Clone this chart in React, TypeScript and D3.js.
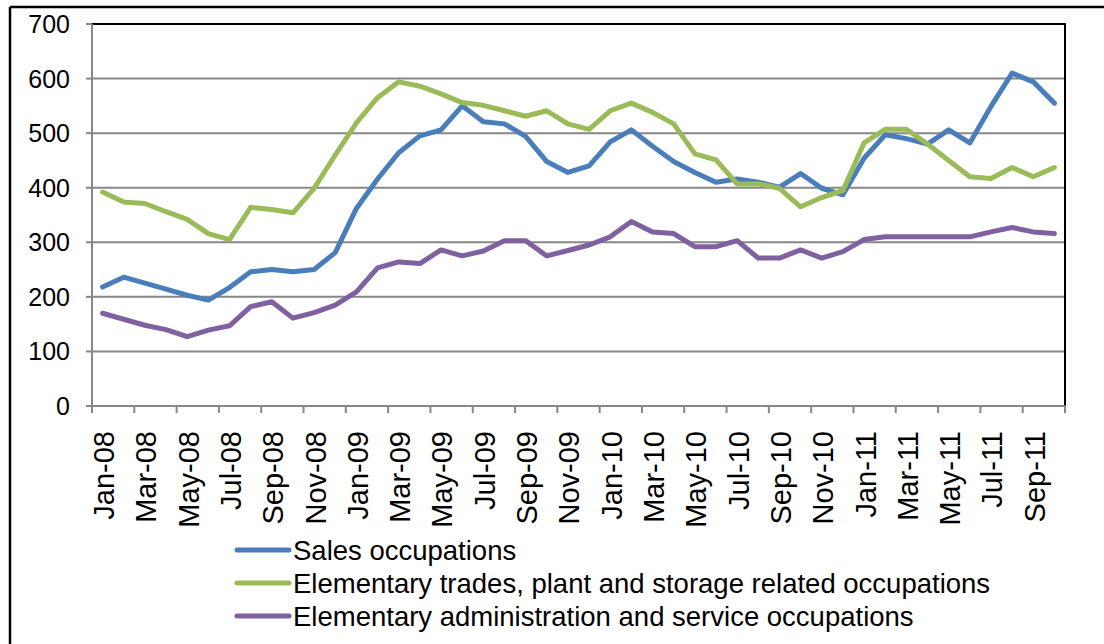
import React from 'react'
import * as d3 from 'd3'

const months = [
  'Jan-08', 'Feb-08', 'Mar-08', 'Apr-08', 'May-08', 'Jun-08', 'Jul-08', 'Aug-08', 'Sep-08', 'Oct-08', 'Nov-08', 'Dec-08',
  'Jan-09', 'Feb-09', 'Mar-09', 'Apr-09', 'May-09', 'Jun-09', 'Jul-09', 'Aug-09', 'Sep-09', 'Oct-09', 'Nov-09', 'Dec-09',
  'Jan-10', 'Feb-10', 'Mar-10', 'Apr-10', 'May-10', 'Jun-10', 'Jul-10', 'Aug-10', 'Sep-10', 'Oct-10', 'Nov-10', 'Dec-10',
  'Jan-11', 'Feb-11', 'Mar-11', 'Apr-11', 'May-11', 'Jun-11', 'Jul-11', 'Aug-11', 'Sep-11', 'Oct-11'
]

const sales = [218, 236, 225, 214, 203, 194, 217, 246, 250, 246, 250, 281, 362, 416, 464, 495, 506, 550, 521, 517, 494, 448, 428, 440,
  484, 506, 476, 448, 428, 410, 416, 410, 401, 426, 399, 387, 454, 497, 490, 480, 506, 482, 549, 610, 594, 555]
const trades = [392, 374, 371, 356, 342, 316, 305, 364, 360, 354, 399, 460, 519, 565, 594, 586, 572, 556, 551, 541, 531, 541, 517, 507,
  541, 555, 538, 517, 462, 451, 407, 407, 399, 365, 382, 395, 482, 507, 507, 480, 450, 420, 417, 437, 420, 437]
const admin = [170, 159, 148, 140, 127, 139, 147, 182, 191, 161, 171, 185, 209, 253, 264, 261, 286, 275, 284, 303, 303, 275, 285, 295,
  310, 338, 319, 316, 292, 292, 303, 271, 271, 286, 271, 283, 305, 310, 310, 310, 310, 310, 319, 327, 319, 316]

const seriesNames = [
  'Sales occupations',
  'Elementary trades, plant and storage related occupations',
  'Elementary administration and service occupations'
]
const seriesColors = ['#4A7EBB', '#9BBB59', '#7F60A0']
const yTicks = [0, 100, 200, 300, 400, 500, 600, 700]

const font = '"Liberation Sans", Arial, sans-serif'

export default function App () {
  const width = 1104
  const height = 644
  const plot = { left: 92, right: 1065, top: 24, bottom: 406 }

  const x = d3.scaleBand<number>()
    .domain(months.map((_, i) => i))
    .range([plot.left, plot.right])
    .paddingInner(0)
    .paddingOuter(0)
  const bw = x.bandwidth()
  const cx = (i: number) => (x(i) as number) + bw / 2

  const y = d3.scaleLinear().domain([0, 700]).range([plot.bottom, plot.top])

  const line = d3.line<number>()
    .x((_, i) => cx(i))
    .y(d => y(d))

  const series = [sales, trades, admin]
  // tick marks sit between categories, one every 2 months
  const xTickPos = d3.range(0, months.length + 1, 2).map(i => i < months.length ? (x(i) as number) : plot.right)

  return (
    <svg width={width} height={height} viewBox={`0 0 ${width} ${height}`}
      style={{ position: 'absolute', left: 0, top: 0, background: '#fff' }}>
      {/* outer frame, only top and left visible */}
      <line x1={10} x2={width} y1={7} y2={7} stroke='#000' strokeWidth={2.5} />
      <line x1={10} x2={10} y1={7} y2={height} stroke='#000' strokeWidth={2.5} />

      {/* gridlines */}
      {yTicks.filter(t => t > 0 && t < 700).map(t => (
        <line key={'g' + t} x1={plot.left} x2={plot.right} y1={y(t)} y2={y(t)} stroke='#878787' strokeWidth={2} />
      ))}

      {/* plot border top/right */}
      <line x1={plot.left} x2={plot.right + 1} y1={y(700)} y2={y(700)} stroke='#000' strokeWidth={2} />
      <line x1={plot.right} x2={plot.right} y1={plot.top} y2={plot.bottom} stroke='#000' strokeWidth={2} />

      {/* y axis */}
      <line x1={plot.left} x2={plot.left} y1={plot.top} y2={plot.bottom + 6} stroke='#878787' strokeWidth={2} />
      {yTicks.map(t => (
        <g key={'y' + t}>
          <line x1={plot.left - 6} x2={plot.left} y1={y(t)} y2={y(t)} stroke='#878787' strokeWidth={2} />
          <text x={70} y={y(t)} dy='0.36em' textAnchor='end' fontFamily={font} fontSize={25} fill='#000'>{t}</text>
        </g>
      ))}

      {/* x axis */}
      <line x1={plot.left} x2={plot.right} y1={plot.bottom} y2={plot.bottom} stroke='#878787' strokeWidth={2} />
      {xTickPos.map((p, k) => (
        <line key={'xt' + k} x1={p} x2={p} y1={plot.bottom} y2={plot.bottom + 7} stroke='#878787' strokeWidth={2} />
      ))}
      {months.map((m, i) => i % 2 === 0 && (
        <text key={m} transform={`translate(${cx(i) + 1},${plot.bottom + 25}) rotate(-90)`}
          dy='0.36em' textAnchor='end' fontFamily={font} fontSize={29} fill='#000'>{m}</text>
      ))}

      {/* lines */}
      {series.map((s, k) => (
        <path key={'s' + k} d={line(s) || ''} fill='none' stroke={seriesColors[k]} strokeWidth={5}
          strokeLinejoin='round' strokeLinecap='round' />
      ))}

      {/* legend */}
      {seriesNames.map((n, k) => {
        const ly = 550 + k * 33
        return (
          <g key={'l' + k}>
            <line x1={237} x2={289} y1={ly} y2={ly} stroke={seriesColors[k]} strokeWidth={5} strokeLinecap='round' />
            <text x={293} y={ly} dy='0.36em' fontFamily={font} fontSize={27.5} fill='#000'>{n}</text>
          </g>
        )
      })}
    </svg>
  )
}
